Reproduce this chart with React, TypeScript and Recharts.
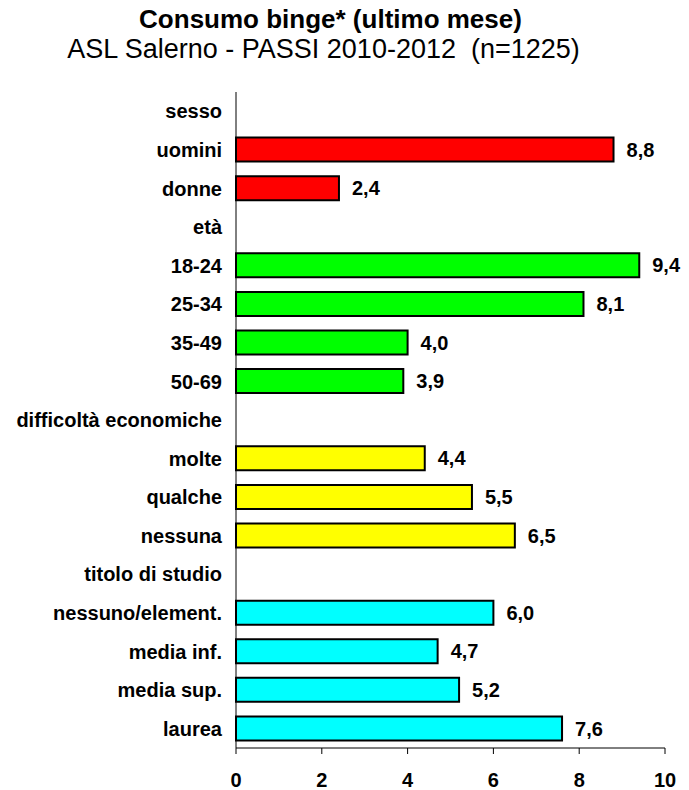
import { BarChart, Bar, XAxis, YAxis, Cell, LabelList } from 'recharts';

const categories = [
  'sesso',
  'uomini',
  'donne',
  'età',
  '18-24',
  '25-34',
  '35-49',
  '50-69',
  'difficoltà economiche',
  'molte',
  'qualche ',
  'nessuna',
  'titolo di studio',
  'nessuno/element.',
  'media inf.',
  'media sup.',
  'laurea',
];

const values: (number | null)[] = [
  null, 8.8, 2.4,
  null, 9.4, 8.1, 4.0, 3.9,
  null, 4.4, 5.5, 6.5,
  null, 6.0, 4.7, 5.2, 7.6,
];

const colors = [
  '#FFFFFF', '#FF0000', '#FF0000',
  '#FFFFFF', '#00FF00', '#00FF00', '#00FF00', '#00FF00',
  '#FFFFFF', '#FFFF00', '#FFFF00', '#FFFF00',
  '#FFFFFF', '#00FFFF', '#00FFFF', '#00FFFF', '#00FFFF',
];

const xTicks = [0, 2, 4, 6, 8, 10];

const data = categories.map((name, i) => ({ name, value: values[i] }));

const font = '"Liberation Sans", Arial, sans-serif';

const fmt = (v: any) => (v == null || v === '' ? '' : Number(v).toFixed(1).replace('.', ','));

export default function App() {
  return (
    <div
      style={{
        position: 'absolute',
        left: 0,
        top: 0,
        width: 689,
        height: 790,
        background: '#fff',
        fontFamily: font,
      }}
    >
      <div
        style={{
          position: 'absolute',
          top: 6,
          left: -14,
          width: 689,
          textAlign: 'center',
          fontSize: 26,
          fontWeight: 'bold',
          lineHeight: '26px',
          color: '#000',
        }}
      >
        Consumo binge* (ultimo mese)
      </div>
      <div
        style={{
          position: 'absolute',
          top: 36,
          left: -21,
          width: 689,
          textAlign: 'center',
          fontSize: 27,
          lineHeight: '27px',
          color: '#000',
        }}
      >
        ASL Salerno - PASSI 2010-2012&nbsp;&nbsp;(n=1225)
      </div>

      <BarChart
        width={689}
        height={790}
        data={data}
        layout="vertical"
        margin={{ top: 92, right: 24, left: 0, bottom: 0 }}
        style={{ position: 'absolute', left: 0, top: 0 }}
      >
        <XAxis
          type="number"
          domain={[0, 10]}
          ticks={xTicks}
          height={42}
          stroke="#000"
          tickSize={6}
          tickMargin={19}
          tick={{ fill: '#000', fontSize: 20, fontWeight: 'bold', fontFamily: font }}
        />
        <YAxis
          type="category"
          dataKey="name"
          width={236}
          stroke="#000"
          tickLine={false}
          tickSize={0}
          tickMargin={14}
          interval={0}
          tick={{ fill: '#000', fontSize: 20, fontWeight: 'bold', fontFamily: font }}
        />
        <Bar dataKey="value" barSize={24} stroke="#000" strokeWidth={2} isAnimationActive={false}>
          {data.map((d, i) => (
            <Cell key={d.name} fill={colors[i]} />
          ))}
          <LabelList
            dataKey="value"
            position="right"
            offset={13}
            formatter={fmt}
            style={{ fill: '#000', fontSize: 20, fontWeight: 'bold', fontFamily: font }}
          />
        </Bar>
      </BarChart>
    </div>
  );
}
